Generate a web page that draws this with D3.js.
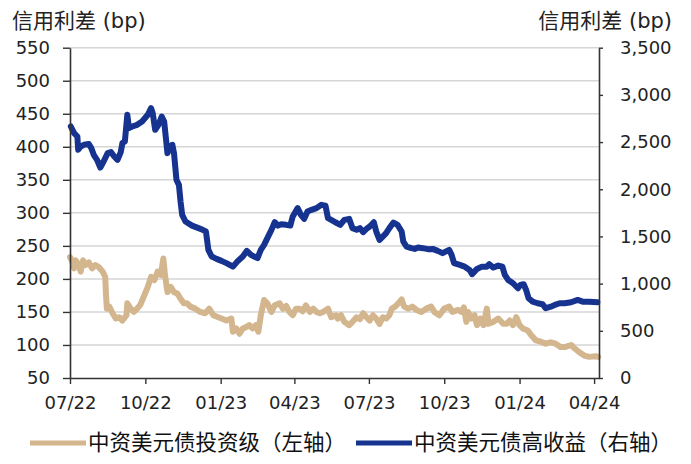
<!DOCTYPE html>
<html><head><meta charset="utf-8">
<script src="https://cdn.jsdelivr.net/npm/d3@7"></script>
<style>body{margin:0;background:#fff;} svg{display:block;}</style>
</head><body><svg id="c" width="691" height="464"></svg>
<script>
// 中资美元债投资级（左轴）
const igDates = ["2022-07-01","2022-07-04","2022-07-06","2022-07-08","2022-07-12","2022-07-14","2022-07-17","2022-07-20","2022-07-24","2022-07-28","2022-08-01","2022-08-05","2022-08-10","2022-08-13","2022-08-14","2022-08-15","2022-08-18","2022-08-22","2022-08-26","2022-08-30","2022-09-03","2022-09-08","2022-09-09","2022-09-13","2022-09-17","2022-09-21","2022-09-25","2022-09-29","2022-10-04","2022-10-08","2022-10-12","2022-10-16","2022-10-20","2022-10-23","2022-10-25","2022-10-28","2022-11-01","2022-11-05","2022-11-09","2022-11-13","2022-11-17","2022-11-21","2022-11-25","2022-12-01","2022-12-07","2022-12-13","2022-12-18","2022-12-23","2022-12-29","2023-01-02","2023-01-08","2023-01-14","2023-01-16","2023-01-20","2023-01-24","2023-01-28","2023-02-01","2023-02-05","2023-02-09","2023-02-13","2023-02-16","2023-02-19","2023-02-23","2023-02-27","2023-03-04","2023-03-08","2023-03-14","2023-03-18","2023-03-22","2023-03-26","2023-03-30","2023-04-03","2023-04-07","2023-04-11","2023-04-15","2023-04-20","2023-04-24","2023-04-28","2023-05-02","2023-05-06","2023-05-12","2023-05-16","2023-05-22","2023-05-24","2023-05-28","2023-06-01","2023-06-07","2023-06-11","2023-06-16","2023-06-20","2023-06-24","2023-06-28","2023-07-02","2023-07-06","2023-07-10","2023-07-14","2023-07-18","2023-07-22","2023-07-26","2023-07-29","2023-08-02","2023-08-06","2023-08-10","2023-08-13","2023-08-18","2023-08-23","2023-08-28","2023-09-03","2023-09-09","2023-09-15","2023-09-19","2023-09-25","2023-10-01","2023-10-07","2023-10-11","2023-10-18","2023-10-22","2023-10-25","2023-10-28","2023-10-30","2023-11-03","2023-11-07","2023-11-10","2023-11-14","2023-11-18","2023-11-22","2023-11-24","2023-11-30","2023-12-06","2023-12-12","2023-12-16","2023-12-20","2023-12-24","2023-12-28","2024-01-01","2024-01-05","2024-01-11","2024-01-15","2024-01-21","2024-01-27","2024-02-02","2024-02-08","2024-02-14","2024-02-20","2024-02-26","2024-03-04","2024-03-08","2024-03-14","2024-03-20","2024-03-26","2024-04-03","2024-04-06"];
const igValues = [233,226,216,228,221,211,228,221,225,216,221,218,211,203,175,155,158,148,140,142,137,145,163,155,150,155,161,173,188,203,198,211,206,231,206,180,188,180,178,170,163,163,158,155,150,148,155,145,142,140,137,140,120,125,117,125,127,130,125,130,120,145,168,163,150,160,163,155,159,150,145,155,155,151,160,150,155,150,148,150,155,142,145,140,145,135,130,135,142,139,148,142,137,145,140,132,142,140,145,155,158,163,169,158,155,158,153,150,155,158,150,145,155,158,150,153,150,157,135,150,140,145,130,140,130,155,132,135,140,132,132,137,130,142,130,125,122,115,107,105,102,104,102,97,97,100,95,89,84,82,83,82];

// 中资美元债高收益（右轴）
const hyDates = ["2022-07-02","2022-07-06","2022-07-10","2022-07-11","2022-07-14","2022-07-18","2022-07-24","2022-07-27","2022-07-30","2022-08-03","2022-08-07","2022-08-11","2022-08-16","2022-08-20","2022-08-24","2022-08-28","2022-09-01","2022-09-03","2022-09-06","2022-09-09","2022-09-11","2022-09-15","2022-09-21","2022-09-27","2022-10-04","2022-10-08","2022-10-10","2022-10-13","2022-10-17","2022-10-21","2022-10-24","2022-10-28","2022-10-31","2022-11-03","2022-11-05","2022-11-08","2022-11-11","2022-11-13","2022-11-15","2022-11-19","2022-11-27","2022-12-05","2022-12-10","2022-12-14","2022-12-17","2022-12-21","2022-12-27","2023-01-02","2023-01-08","2023-01-16","2023-01-22","2023-01-28","2023-02-02","2023-02-07","2023-02-11","2023-02-15","2023-02-19","2023-02-23","2023-02-27","2023-03-04","2023-03-08","2023-03-12","2023-03-16","2023-03-22","2023-03-27","2023-03-30","2023-04-05","2023-04-09","2023-04-13","2023-04-17","2023-04-22","2023-04-28","2023-05-04","2023-05-09","2023-05-12","2023-05-16","2023-05-21","2023-05-27","2023-06-01","2023-06-07","2023-06-11","2023-06-16","2023-06-20","2023-06-24","2023-06-28","2023-07-02","2023-07-07","2023-07-10","2023-07-14","2023-07-18","2023-07-22","2023-07-26","2023-07-31","2023-08-05","2023-08-10","2023-08-12","2023-08-16","2023-08-22","2023-08-26","2023-08-30","2023-09-05","2023-09-11","2023-09-17","2023-09-23","2023-09-29","2023-10-07","2023-10-10","2023-10-13","2023-10-20","2023-10-26","2023-11-01","2023-11-04","2023-11-10","2023-11-16","2023-11-22","2023-11-25","2023-11-30","2023-12-06","2023-12-11","2023-12-14","2023-12-18","2023-12-24","2023-12-30","2024-01-02","2024-01-06","2024-01-09","2024-01-12","2024-01-17","2024-01-23","2024-01-29","2024-02-02","2024-02-08","2024-02-13","2024-02-19","2024-02-25","2024-03-04","2024-03-12","2024-03-18","2024-03-26","2024-04-05"];
const hyValues = [2665,2595,2559,2418,2453,2471,2479,2436,2365,2312,2230,2294,2383,2394,2347,2312,2394,2489,2506,2789,2648,2665,2683,2718,2789,2860,2807,2630,2683,2771,2718,2383,2453,2471,2383,2100,2047,1870,1729,1658,1615,1588,1570,1552,1358,1287,1262,1241,1217,1180,1241,1287,1347,1305,1287,1270,1358,1411,1482,1570,1651,1615,1630,1623,1615,1711,1800,1729,1686,1764,1782,1800,1835,1827,1694,1676,1650,1623,1676,1686,1588,1570,1588,1545,1580,1605,1651,1552,1464,1499,1535,1588,1647,1623,1552,1446,1393,1376,1368,1382,1376,1365,1368,1347,1323,1358,1305,1217,1198,1180,1145,1100,1156,1180,1180,1206,1170,1191,1180,1092,1039,1004,951,986,994,933,845,809,792,782,739,756,774,792,792,803,827,809,809,803];

const leftTicks = [50,100,150,200,250,300,350,400,450,500,550];
const rightTicks = [0,500,1000,1500,2000,2500,3000,3500];
const xTickLabels = ["07/22","10/22","01/23","04/23","07/23","10/23","01/24","04/24"];
const seriesNames = ["中资美元债投资级（左轴）","中资美元债高收益（右轴）"];
const axisTitle = "信用利差 (bp)";

const colIG = "#D3B58E", colHY = "#15338F";
const parse = d3.timeParse("%Y-%m-%d");
const fmtM = d3.timeParse("%m/%y");

const svg = d3.select("#c");
const L = 70, R = 599, T = 47.7, B = 378;
const x = d3.scaleTime().domain([parse("2022-07-01"), parse("2024-04-07")]).range([L, R]);
const yL = d3.scaleLinear().domain([50, 550]).range([B, T]);
const yR = d3.scaleLinear().domain([0, 3500]).range([B, T]);

const font = "'DejaVu Sans','Noto Sans CJK SC',sans-serif";

// gridlines
svg.append("g").selectAll("line").data(leftTicks.filter(v => v > 50)).join("line")
  .attr("x1", L).attr("x2", R).attr("y1", d => yL(d)).attr("y2", d => yL(d))
  .attr("stroke", "#d6d6d6").attr("stroke-width", 1.5);

// lines
const ig = igDates.map((d, i) => ({d: parse(d), v: igValues[i]}));
const hy = hyDates.map((d, i) => ({d: parse(d), v: hyValues[i]}));
svg.append("path").datum(ig)
  .attr("d", d3.line().x(p => x(p.d)).y(p => yL(p.v)))
  .attr("fill", "none").attr("stroke", colIG).attr("stroke-width", 6)
  .attr("stroke-linejoin", "round").attr("stroke-linecap", "round");
svg.append("path").datum(hy)
  .attr("d", d3.line().x(p => x(p.d)).y(p => yR(p.v)))
  .attr("fill", "none").attr("stroke", colHY).attr("stroke-width", 6)
  .attr("stroke-linejoin", "round").attr("stroke-linecap", "round");

function styleAxis(g) {
  g.selectAll("path.domain").attr("stroke", "#333").attr("stroke-width", 1.6);
  g.selectAll(".tick line").attr("stroke", "#333").attr("stroke-width", 1.4);
  g.selectAll("text").attr("font-family", font).attr("font-size", 18).attr("fill", "#222");
}

const gl = svg.append("g").attr("transform", `translate(${L},0)`)
  .call(d3.axisLeft(yL).tickValues(leftTicks).tickSize(7).tickSizeOuter(0).tickPadding(13).tickFormat(d3.format("d")));
styleAxis(gl);

const gr = svg.append("g").attr("transform", `translate(${R},0)`)
  .call(d3.axisRight(yR).tickValues(rightTicks).tickSize(4).tickSizeOuter(0).tickPadding(17).tickFormat(d3.format(",")));
styleAxis(gr);

const xTicks = xTickLabels.map(s => fmtM(s));
const gx = svg.append("g").attr("transform", `translate(0,${B})`)
  .call(d3.axisBottom(x).tickValues(xTicks).tickSize(6).tickSizeOuter(0).tickPadding(12).tickFormat(d3.timeFormat("%m/%y")));
styleAxis(gx);

// axis titles
svg.append("text").attr("x", 12).attr("y", 28).attr("font-family", font).attr("font-size", 21)
  .attr("fill", "#222").text(axisTitle);
svg.append("text").attr("x", 672).attr("y", 28).attr("text-anchor", "end").attr("font-family", font)
  .attr("font-size", 21).attr("fill", "#222").text(axisTitle);

// legend
const lg = svg.append("g");
const items = [{name: seriesNames[0], c: colIG, x0: 30}, {name: seriesNames[1], c: colHY, x0: 356}];
items.forEach(it => {
  lg.append("line").attr("x1", it.x0).attr("x2", it.x0 + 56).attr("y1", 443).attr("y2", 443)
    .attr("stroke", it.c).attr("stroke-width", 5);
  lg.append("text").attr("x", it.x0 + 58).attr("y", 450).attr("font-family", "'Noto Sans CJK SC',sans-serif")
    .attr("font-size", 21.5).attr("fill", "#111").text(it.name);
});
</script></body></html>
